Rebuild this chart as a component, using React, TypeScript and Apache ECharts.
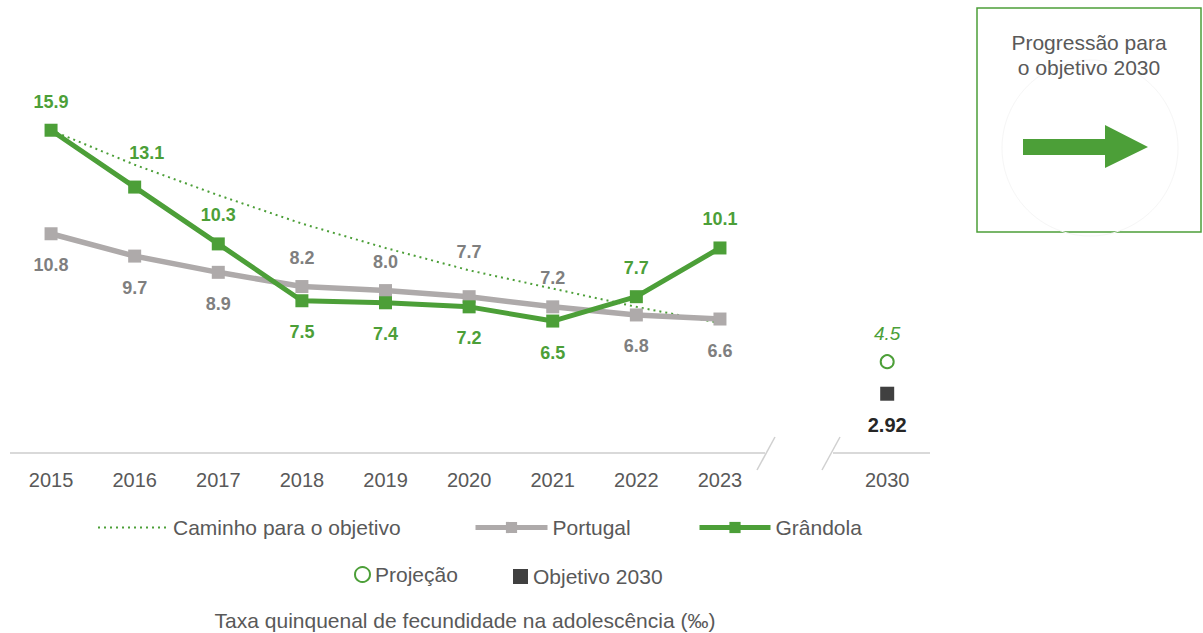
import React, { useEffect, useRef } from "react";
import * as echarts from "echarts";

const years = ["2015", "2016", "2017", "2018", "2019", "2020", "2021", "2022", "2023", "", "2030"];
const portugal = [10.8, 9.7, 8.9, 8.2, 8.0, 7.7, 7.2, 6.8, 6.6];
const grandola = [15.9, 13.1, 10.3, 7.5, 7.4, 7.2, 6.5, 7.7, 10.1];
const caminho = [15.9, 14.2, 12.7, 11.3, 10.1, 9.0, 8.1, 7.2, 6.4];
const projecao = 4.5;
const objetivo = 2.92;

const portugalLabelPos = ["bottom", "bottom", "bottom", "top", "top", "top", "top", "bottom", "bottom"];
const grandolaLabelPos = ["top", "top", "top", "bottom", "bottom", "bottom", "bottom", "top", "top"];

const GREEN = "#4C9F38";
const GREY_LINE = "#AEAAAA";
const GREY_LABEL = "#7F7F7F";
const TEXT = "#595959";
const FONT = "'Liberation Sans', Arial, sans-serif";

export default function App() {
  const ref = useRef<HTMLDivElement>(null);
  useEffect(() => {
    if (!ref.current) return;
    const chart = echarts.init(ref.current, undefined, { renderer: "svg" });

    const mkLabelData = (vals: number[], pos: string[], color: string, extra: Record<number, any>) =>
      vals.map((v, i) => ({
        value: v,
        label: {
          show: true,
          position: pos[i],
          distance: pos[i] === "top" ? 13 : 16,
          color,
          fontSize: 18,
          fontWeight: "bold",
          fontFamily: FONT,
          formatter: (p: any) => Number(p.value).toFixed(1),
          ...(extra[i] || {}),
        },
      }));

    const legendText = { color: TEXT, fontSize: 21, fontFamily: FONT };

    const option: any = {
      animation: false,
      textStyle: { fontFamily: FONT },
      grid: { left: 9.25, right: 274, top: 47, bottom: 180, containLabel: false },
      xAxis: {
        type: "category",
        data: years,
        boundaryGap: true,
        axisLine: { show: false },
        axisTick: { show: false },
        axisLabel: { color: TEXT, fontSize: 20, margin: 17, fontFamily: FONT, interval: 0 },
      },
      yAxis: {
        type: "value",
        min: 0,
        max: 20,
        show: false,
        splitLine: { show: false },
      },
      legend: [
        {
          data: ["Caminho para o objetivo"],
          left: 97, top: 517, padding: 0, itemWidth: 70, itemHeight: 14,
          textStyle: legendText,
          lineStyle: { width: 2 },
          itemStyle: { opacity: 0 },
        },
        {
          data: ["Portugal"],
          left: 473, top: 517, padding: 0, itemWidth: 72, itemHeight: 14,
          textStyle: legendText,
          lineStyle: { width: 5 },
        },
        {
          data: ["Grândola"],
          left: 697, top: 517, padding: 0, itemWidth: 71, itemHeight: 14,
          textStyle: legendText,
          lineStyle: { width: 5 },
        },
        {
          data: [{ name: "Projeção", icon: "emptyCircle" }],
          left: 354, top: 564, padding: 0, itemWidth: 15, itemHeight: 15,
          textStyle: legendText,
          itemStyle: { color: GREEN, borderColor: GREEN, borderWidth: 2, opacity: 1 },
        },
        {
          data: [{ name: "Objetivo 2030", icon: "rect" }],
          left: 513, top: 566, padding: 0, itemWidth: 15, itemHeight: 15,
          textStyle: legendText,
          itemStyle: { color: "#404040", opacity: 1 },
        },
      ],
      series: [
        {
          name: "Caminho para o objetivo",
          type: "line",
          data: caminho,
          symbol: "none",
          z: 1,
          lineStyle: { color: GREEN, width: 2, type: [2, 4] },
          itemStyle: { color: GREEN },
        },
        {
          name: "Portugal",
          type: "line",
          data: mkLabelData(portugal, portugalLabelPos, GREY_LABEL, { 5: { offset: [0, -16] } }),
          symbol: "rect",
          symbolSize: 13,
          z: 2,
          lineStyle: { color: GREY_LINE, width: 5.5 },
          itemStyle: { color: GREY_LINE },
        },
        {
          name: "Grândola",
          type: "line",
          data: mkLabelData(grandola, grandolaLabelPos, GREEN, { 1: { offset: [12, -6] } }),
          symbol: "rect",
          symbolSize: 13,
          z: 3,
          lineStyle: { color: GREEN, width: 5 },
          itemStyle: { color: GREEN },
        },
        {
          name: "Projeção",
          type: "scatter",
          data: [["2030", projecao]],
          symbol: "emptyCircle",
          symbolSize: 13,
          z: 3,
          itemStyle: { color: GREEN, borderColor: GREEN, borderWidth: 2, opacity: 1 },
          label: {
            show: true,
            position: "top",
            distance: 11,
            color: GREEN,
            fontSize: 19,
            fontStyle: "italic",
            fontFamily: FONT,
            formatter: (p: any) => String(p.value[1]),
          },
        },
        {
          name: "Objetivo 2030",
          type: "scatter",
          data: [["2030", objetivo]],
          symbol: "rect",
          symbolSize: 14,
          z: 3,
          itemStyle: { color: "#404040", opacity: 1 },
          label: {
            show: true,
            position: "bottom",
            distance: 14,
            color: "#262626",
            fontSize: 20,
            fontWeight: "bold",
            fontFamily: FONT,
            formatter: (p: any) => String(p.value[1]),
          },
        },
      ],
      graphic: [
        { type: "line", shape: { x1: 10, y1: 453, x2: 765, y2: 453 }, style: { stroke: "#D9D9D9", lineWidth: 2 }, z: 0 },
        { type: "line", shape: { x1: 833, y1: 453, x2: 930, y2: 453 }, style: { stroke: "#D9D9D9", lineWidth: 2 }, z: 0 },
        { type: "line", shape: { x1: 775, y1: 437, x2: 757, y2: 470 }, style: { stroke: "#D0D0D0", lineWidth: 1.5 }, z: 0 },
        { type: "line", shape: { x1: 840, y1: 437, x2: 822, y2: 470 }, style: { stroke: "#D0D0D0", lineWidth: 1.5 }, z: 0 },
        {
          type: "text", x: 465, y: 610,
          style: { text: "Taxa quinquenal de fecundidade na adolescência (‰)", fill: TEXT, font: `21px ${FONT}`, textAlign: "center" },
        },
        { type: "rect", shape: { x: 977, y: 8, width: 224, height: 224 }, style: { fill: "#fff", stroke: GREEN, lineWidth: 1.5 } },
        { type: "circle", shape: { cx: 1090, cy: 148, r: 88 }, style: { fill: "none", stroke: "#F6F6F6", lineWidth: 1 } },
        {
          type: "text", x: 1089, y: 30,
          style: { text: "Progressão para\no objetivo 2030", fill: TEXT, font: `21px ${FONT}`, textAlign: "center", lineHeight: 25 },
        },
        {
          type: "polygon",
          shape: { points: [[1023, 139], [1105, 139], [1105, 125], [1148, 147], [1105, 168], [1105, 155], [1023, 155]] },
          style: { fill: GREEN },
        },
      ],
    };
    chart.setOption(option);
    return () => chart.dispose();
  }, []);
  return <div ref={ref} style={{ position: "absolute", left: 0, top: 0, width: 1203, height: 633 }} />;
}
